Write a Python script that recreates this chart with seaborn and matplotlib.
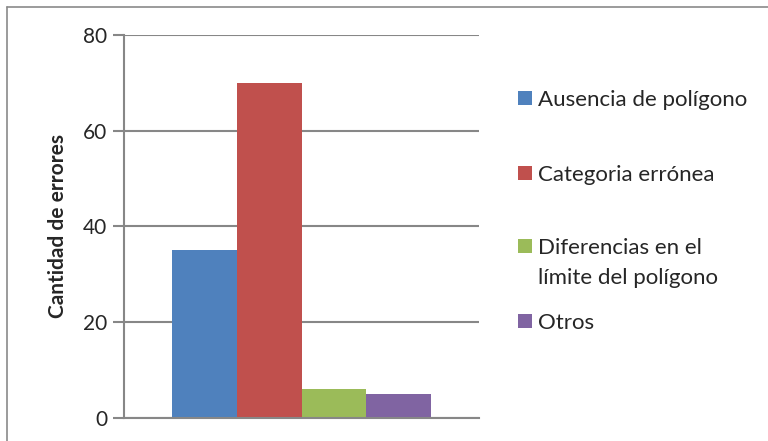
import pandas as pd
import matplotlib
matplotlib.use("Agg")
import matplotlib.pyplot as plt
from matplotlib.patches import Patch
from matplotlib.lines import Line2D
import seaborn as sns

# Data
series = ["Ausencia de polígono", "Categoria errónea",
          "Diferencias en el\nlímite del polígono", "Otros"]
values = [35, 70, 6, 5]
colors = ["#4f81bd", "#c0504d", "#9bbb59", "#8064a2"]
yticks = [0, 20, 40, 60, 80]

df = pd.DataFrame({"grupo": [""] * len(series), "serie": series, "valor": values})

sns.set_style("white")
plt.rcParams["font.family"] = ["Lato", "DejaVu Sans"]

W, H = 768, 441
fig = plt.figure(figsize=(W / 100, H / 100), dpi=100)
ax = fig.add_axes([124 / W, 1 - 418 / H, 355 / W, 383 / H])

sns.barplot(data=df, x="grupo", y="valor", hue="serie", palette=colors,
            width=0.73, gap=0, saturation=1, legend=False, ax=ax, linewidth=0)

ax.set_xlim(-0.5, 0.5)
ax.set_ylim(0, 80)
ax.set_yticks(yticks)
ax.set_xticks([])
ax.set_xlabel("")
ax.set_ylabel("Cantidad de errores", fontsize=15, fontweight="bold", labelpad=11)
ax.yaxis.grid(True, color="#878787", linewidth=1.5)
ax.set_axisbelow(True)
ax.tick_params(axis="y", length=8, width=1.5, color="#878787", labelsize=15, pad=4, left=True)
for s in ["top", "right"]:
    ax.spines[s].set_visible(False)
for s in ["left", "bottom"]:
    ax.spines[s].set_color("#878787")
    ax.spines[s].set_linewidth(1.5)

# legend: Excel-like spacing, one entry at a time (first line next to the square)
fs = 16
legend_y = [100, 175, 248, 323]
for name, c, yc in zip(series, colors, legend_y):
    lines = name.split("\n")
    leg = fig.legend([Patch(facecolor=c, edgecolor="none")], [lines[0]],
                     loc="center left", bbox_to_anchor=(518 / W, 1 - yc / H),
                     frameon=False, fontsize=fs, borderpad=0, borderaxespad=0,
                     handlelength=0.63, handleheight=0.63, handletextpad=0.27)
    if len(lines) > 1:
        fig.canvas.draw()
        bb = leg.get_texts()[0].get_window_extent()
        x0 = bb.x0 / W
        for i, extra in enumerate(lines[1:], start=1):
            fig.text(x0, 1 - (yc + 30 * i) / H, extra, fontsize=fs, va="center", ha="left")

# outer chart border (only top and left visible in the crop)
fig.add_artist(Line2D([7 / W, 1], [1 - 7 / H, 1 - 7 / H], transform=fig.transFigure,
                      color="#8a8a8a", linewidth=1.2))
fig.add_artist(Line2D([7 / W, 7 / W], [0, 1 - 7 / H], transform=fig.transFigure,
                      color="#8a8a8a", linewidth=1.2))

fig.savefig("out.png", dpi=100)
